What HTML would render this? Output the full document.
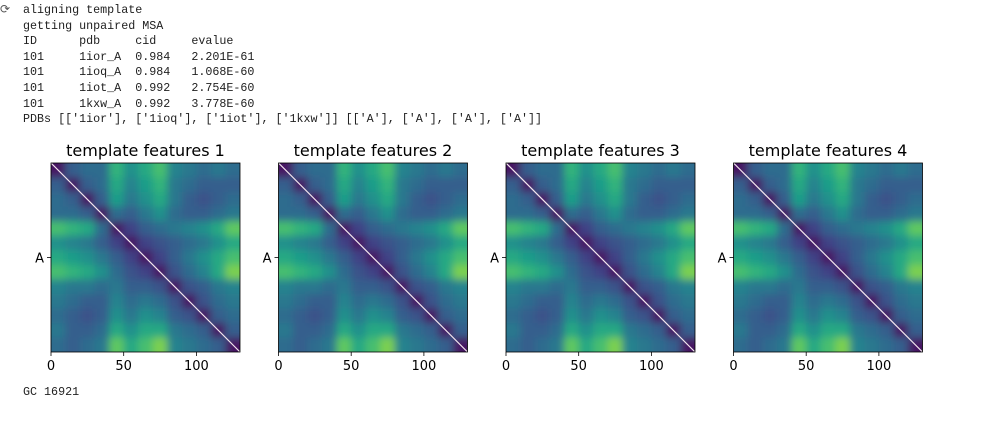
<!DOCTYPE html>
<html><head><meta charset="utf-8">
<style>
body{margin:0;background:#fff;width:1002px;height:427px;overflow:hidden;position:relative;font-family:"DejaVu Sans","Liberation Sans",sans-serif}
#out{position:absolute;left:23px;top:3px;font-family:"Liberation Mono","DejaVu Sans Mono",monospace;font-size:11.7px;line-height:15.6px;color:#212121;white-space:pre;margin:0}
#gc{position:absolute;left:23px;top:385px;font-family:"Liberation Mono",monospace;font-size:11.7px;color:#212121;white-space:pre}
#icon{position:absolute;left:0;top:2px;font-size:12px;color:#555}
</style></head><body>
<div id="icon">⟳</div>
<pre id="out">aligning template
getting unpaired MSA
ID      pdb     cid     evalue
101     1ior_A  0.984   2.201E-61
101     1ioq_A  0.984   1.068E-60
101     1iot_A  0.992   2.754E-60
101     1kxw_A  0.992   3.778E-60
PDBs [['1ior'], ['1ioq'], ['1iot'], ['1kxw']] [['A'], ['A'], ['A'], ['A']]</pre>
<svg id="chart" width="1002" height="427" style="position:absolute;left:0;top:0">
<defs><filter id="blur" x="-0.2" y="-0.2" width="1.4" height="1.4"><feGaussianBlur stdDeviation="4"/></filter></defs>
</svg>
<div id="gc">GC 16921</div>
<script>
const titles=["template features 1","template features 2","template features 3","template features 4"];
const xTicks=[0,50,100];
const yTickLabels=["A"];
const nRes=130;
const m0=[0.05,0.3,0.35,0.35,0.65,0.5,0.6,0.7,0.45,0.4,0.35,0.4,0.35];
const m1=[0.3,0.05,0.3,0.35,0.6,0.45,0.55,0.65,0.4,0.35,0.3,0.3,0.3];
const m2=[0.35,0.3,0.05,0.3,0.55,0.4,0.5,0.6,0.4,0.3,0.25,0.3,0.35];
const m3=[0.35,0.35,0.3,0.05,0.35,0.3,0.4,0.5,0.35,0.3,0.3,0.35,0.4];
const m4=[0.7,0.65,0.6,0.35,0.05,0.2,0.3,0.35,0.4,0.45,0.5,0.6,0.75];
const m5=[0.5,0.45,0.4,0.3,0.2,0.05,0.2,0.25,0.3,0.35,0.4,0.5,0.6];
const m6=[0.6,0.55,0.5,0.4,0.3,0.2,0.05,0.2,0.3,0.4,0.5,0.6,0.7];
const m7=[0.7,0.65,0.6,0.5,0.35,0.25,0.2,0.05,0.25,0.35,0.45,0.6,0.8];
const m8=[0.45,0.4,0.4,0.35,0.4,0.3,0.3,0.25,0.05,0.25,0.3,0.4,0.45];
const m9=[0.4,0.35,0.3,0.3,0.45,0.35,0.4,0.35,0.25,0.05,0.25,0.35,0.4];
const m10=[0.35,0.3,0.25,0.3,0.5,0.4,0.5,0.45,0.3,0.25,0.05,0.3,0.35];
const m11=[0.4,0.3,0.3,0.35,0.6,0.5,0.6,0.6,0.4,0.35,0.3,0.05,0.3];
const m12=[0.35,0.3,0.35,0.4,0.75,0.6,0.7,0.8,0.45,0.4,0.35,0.3,0.05];
const matrix=[m0,m1,m2,m3,m4,m5,m6,m7,m8,m9,m10,m11,m12];

const NS="http://www.w3.org/2000/svg";
const svg=document.getElementById('chart');
const defs=svg.querySelector('defs');
const vir=[[68,1,84],[72,40,120],[62,74,137],[49,104,142],[38,130,142],[31,158,137],[53,183,121],[109,205,89],[180,222,44],[253,231,37]];
function viridis(t){t=Math.max(0,Math.min(1,t))*(vir.length-1);const i=Math.min(vir.length-2,Math.floor(t)),f=t-i;const a=vir[i],b=vir[i+1];return 'rgb('+[0,1,2].map(k=>Math.round(a[k]+(b[k]-a[k])*f)).join(',')+')';}
function mk(tag,attrs){const e=document.createElementNS(NS,tag);for(const k in attrs)e.setAttribute(k,attrs[k]);return e;}
const panelLeft=[51,278.5,506,733.5],axTop=163,size=189,pad=14;
const n=matrix.length;
titles.forEach((t,p)=>{
  const L=panelLeft[p];
  const xs=v=>L+v/nRes*size;
  const ys=v=>axTop+v/nRes*size;
  const bin=nRes/n;
  const g=mk('g',{});
  
  
  svg.appendChild(g);
  const cp=mk('clipPath',{id:'clip'+p});
  cp.appendChild(mk('rect',{x:L,y:axTop,width:size,height:size}));
  defs.appendChild(cp);
  const clipG=mk('g',{'clip-path':'url(#clip'+p+')'});
  g.appendChild(clipG);
  const cells=mk('g',{filter:'url(#blur)'});
  
  
  clipG.appendChild(cells);
  for(let i=0;i<n;i++)for(let j=0;j<n;j++){
    let x0=xs(j*bin),x1=xs((j+1)*bin),y0=ys(i*bin),y1=ys((i+1)*bin);
    if(j===0)x0-=pad; if(j===n-1)x1+=pad;
    if(i===0)y0-=pad; if(i===n-1)y1+=pad;
    const r=mk('rect',{x:x0,y:y0,width:x1-x0+0.5,height:y1-y0+0.5,fill:viridis(matrix[i][j])});
    
    
    cells.appendChild(r);
  }
  const d=mk('line',{x1:xs(0),y1:ys(0),x2:xs(nRes),y2:ys(nRes),stroke:'#f4e8ef','stroke-width':1.2});
  
  
  g.appendChild(d);
  const fr=mk('rect',{x:L,y:axTop,width:size,height:size,fill:'none',stroke:'#000','stroke-width':0.8});
  
  
  g.appendChild(fr);
  const tt=mk('text',{x:L+size/2,y:axTop-7,'text-anchor':'middle','font-size':'16px',fill:'#000'});
  tt.textContent=t;
  
  
  g.appendChild(tt);
  xTicks.forEach(v=>{
    const x=xs(v);
    const tk=mk('line',{x1:x,y1:axTop+size,x2:x,y2:axTop+size+4,stroke:'#000','stroke-width':0.8});
    
    
    g.appendChild(tk);
    const tl=mk('text',{x:x,y:axTop+size+18,'text-anchor':'middle','font-size':'13px',fill:'#000'});
    tl.textContent=v;
    
    
    g.appendChild(tl);
  });
  yTickLabels.forEach(lbl=>{
    const y=axTop+size/2;
    const tk=mk('line',{x1:L-4,y1:y,x2:L,y2:y,stroke:'#000','stroke-width':0.8});
    
    
    g.appendChild(tk);
    const tl=mk('text',{x:L-7,y:y+5,'text-anchor':'end','font-size':'13px',fill:'#000'});
    tl.textContent=lbl;
    
    
    g.appendChild(tl);
  });
});
</script>
</body></html>
